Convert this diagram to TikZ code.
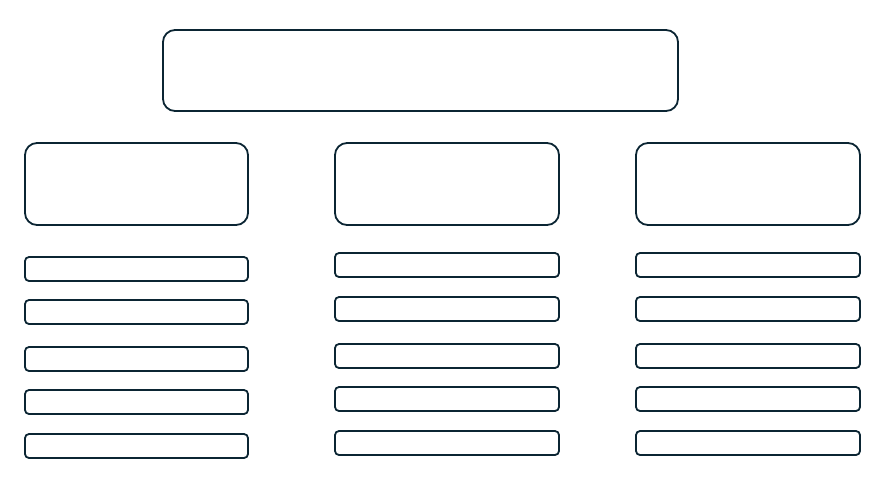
\documentclass[tikz,border=0pt]{standalone}
\definecolor{navy}{HTML}{0B2533}
\begin{document}
\begin{tikzpicture}[x=1pt,y=-1pt,
  bigbox/.style={draw=navy,line width=1.8pt,rounded corners=12pt,inner sep=0pt,fill=white},
  slot/.style={draw=navy,line width=1.8pt,rounded corners=4pt,inner sep=0pt,fill=white,minimum height=24pt}]
\useasboundingbox (0,0) rectangle (887,480);
\node[bigbox,minimum width=515pt,minimum height=81pt] (top) at (420.5,70.5) {};
% left column
\node[bigbox,minimum width=223pt,minimum height=82pt] (h1) at (136.5,184) {};
\foreach \y [count=\i] in {269,312,359,402,446}
  \node[slot,minimum width=223pt] (a\i) at (136.5,\y) {};
% middle column
\node[bigbox,minimum width=224pt,minimum height=82pt] (h2) at (447,184) {};
\foreach \y [count=\i] in {265,309,356,399,443}
  \node[slot,minimum width=224pt] (b\i) at (447,\y) {};
% right column
\node[bigbox,minimum width=224pt,minimum height=82pt] (h3) at (748,184) {};
\foreach \y [count=\i] in {265,309,356,399,443}
  \node[slot,minimum width=224pt] (c\i) at (748,\y) {};
\end{tikzpicture}
\end{document}
